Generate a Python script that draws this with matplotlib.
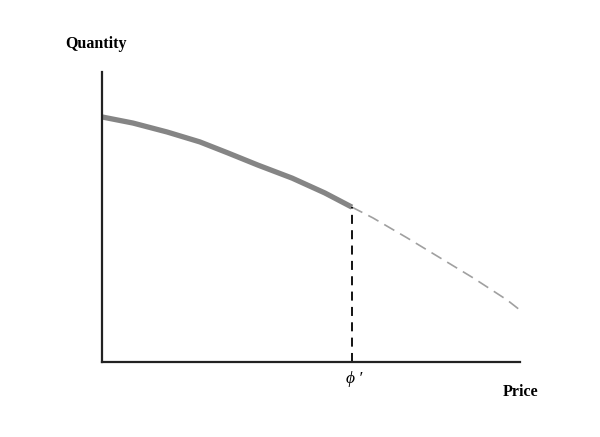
import matplotlib
matplotlib.use("Agg")
import matplotlib.pyplot as plt

# Data (arbitrary units)
solid_x = [0.0, 0.74, 1.56, 2.34, 3.01, 3.73, 4.55, 5.33, 5.98]
solid_y = [8.45, 8.24, 7.93, 7.59, 7.21, 6.79, 6.34, 5.83, 5.34]
dash_x = [5.98, 6.48, 7.30, 8.09, 8.88, 9.69, 10.0]
dash_y = [5.34, 4.97, 4.28, 3.59, 2.90, 2.14, 1.79]
phi_x = 5.98
x_label = "Price"
y_label = "Quantity"
tick_label = "ϕ\u2009\u2032"

W, H = 600, 437
fig = plt.figure(figsize=(W / 100, H / 100), dpi=100)
ax = fig.add_axes([102 / W, (H - 362) / H, (520 - 102) / W, (362 - 72) / H])
ax.set_xlim(0, 10)
ax.set_ylim(0, 10)

ax.plot(solid_x, solid_y, color="#858585", lw=3.8, solid_capstyle="butt",
        solid_joinstyle="round")
ax.plot(dash_x, dash_y, color="#a0a0a0", lw=1.2, dashes=(7, 4))
ax.plot([phi_x, phi_x], [0, solid_y[-1]], color="black", lw=1.3, dashes=(5, 3.5))

for s in ["top", "right"]:
    ax.spines[s].set_visible(False)
for s in ["left", "bottom"]:
    ax.spines[s].set_linewidth(1.6)
    ax.spines[s].set_color("#222222")
ax.set_xticks([])
ax.set_yticks([])

fig.text(65 / W, 1 - 44 / H, y_label, fontfamily="Liberation Serif", fontweight="bold",
         fontsize=11.5, ha="left", va="center")
fig.text(538 / W, 1 - 392 / H, x_label, fontfamily="Liberation Serif", fontweight="bold",
         fontsize=11.5, ha="right", va="center")
ax.text(phi_x + 0.05, -0.6, tick_label, fontfamily=["Liberation Serif", "DejaVu Serif"],
        fontstyle="italic", fontsize=12.5, ha="center", va="center",
        transform=ax.transData, clip_on=False)

fig.savefig("out.png", dpi=100)
